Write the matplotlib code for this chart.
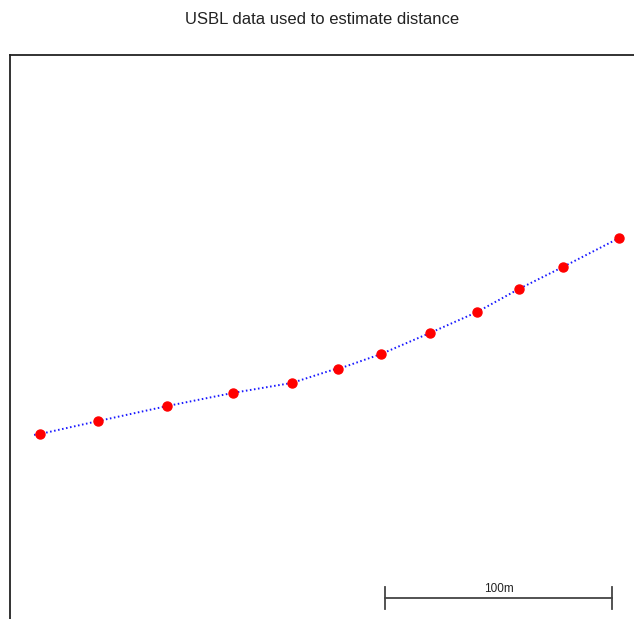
import matplotlib
matplotlib.use("Agg")
import matplotlib.pyplot as plt

plt.rcParams['font.family'] = ['Liberation Sans', 'DejaVu Sans']

# USBL track, metres (local grid)
track_x = [10.6, 13.2, 38.8, 69.2, 98.2, 124.2, 142.3, 144.5, 163.4, 185.0, 205.7, 224.2, 243.6, 268.3]
track_y = [81.1, 81.5, 87.2, 93.8, 99.6, 104.0, 109.8, 110.1, 116.7, 126.0, 135.2, 145.4, 155.1, 167.8]

# fixes used for distance
fix_x = [13.2, 38.8, 69.2, 98.2, 124.2, 144.5, 163.4, 185.0, 205.7, 224.2, 243.6, 268.3]
fix_y = [81.5, 87.2, 93.8, 99.6, 104.0, 110.1, 116.7, 126.0, 135.2, 145.4, 155.1, 167.8]

bar_start = 165.2
bar_len = 100
bar_label = "100m"

fig = plt.figure(figsize=(6.34, 6.19), dpi=100)
ax = fig.add_axes([10 / 634, 0, 1 - 10 / 634, 1 - 55 / 619])
ax.plot(track_x, track_y, color='blue', lw=1.4, ls=(0, (0.8, 1.3)), alpha=0.9)
ax.plot(fix_x, fix_y, 'o', color='red', ms=6.5, mec='red')

# scale bar
yb = 9.25
ax.plot([bar_start, bar_start + bar_len], [yb, yb], color='#444444', lw=1.3)
for xb in (bar_start, bar_start + bar_len):
    ax.plot([xb, xb], [yb - 5, yb + 5], color='#444444', lw=1.3)
ax.text(bar_start + bar_len / 2, yb + 1.5, bar_label, ha='center', va='bottom', fontsize=8.5, color='#222222')

ax.set_xlim(0, 624 / 2.27)
ax.set_ylim(0, 564 / 2.27)
ax.set_xticks([])
ax.set_yticks([])
for s in ('right', 'bottom'):
    ax.spines[s].set_visible(False)
for s in ('left', 'top'):
    ax.spines[s].set_linewidth(1.3)
    ax.spines[s].set_color('#222222')

fig.text(322 / 634, 1 - 19 / 619, "USBL data used to estimate distance", ha='center', va='center',
         fontsize=12, color='#222222')

fig.savefig("out.png", dpi=100)
